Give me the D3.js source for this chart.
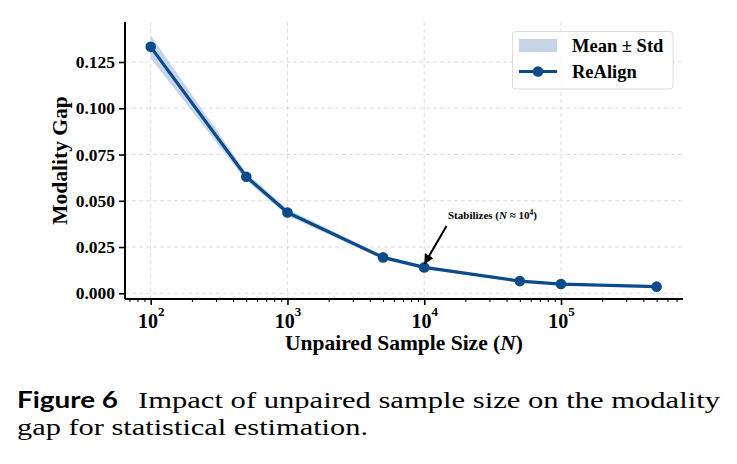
<!DOCTYPE html>
<html>
<head>
<meta charset="utf-8">
<script src="https://cdn.jsdelivr.net/npm/d3@7"></script>
<style>
  html, body { margin: 0; padding: 0; background: #fff; }
  svg { display: block; }
  .cap { font-family: "Liberation Serif", "Times New Roman", serif; font-weight: normal; }
</style>
</head>
<body>
<svg id="chart" width="737" height="464"></svg>
<script>
// ---- data ----
const sampleSizes = [100, 500, 1000, 5000, 10000, 50000, 100000, 500000];
const gapMean = [0.1332, 0.0630, 0.0437, 0.0194, 0.0140, 0.0066, 0.0050, 0.0036];
const gapStd  = [0.0062, 0.0020, 0.0018, 0.0010, 0.0008, 0.0006, 0.0005, 0.0004];
const yTicks = [0.000, 0.025, 0.050, 0.075, 0.100, 0.125];
const xTickExponents = [2, 3, 4, 5];
const seriesName = "ReAlign";
const bandName = "Mean \u00B1 Std";
const annotationText = "Stabilizes";
const annotationN = 10000;
const captionLabel = "Figure 6";
const captionLines = ["Impact of unpaired sample size on the modality", "gap for statistical estimation."];

(function () {
const lineColor = "#0b4a8b";
const bandColor = "#c5d5e7";
const serif = "'Liberation Serif', 'Times New Roman', serif";

const svg = d3.select("#chart");
const pL = 125, pR = 683, pT = 22, pB = 299;

const x = d3.scaleLog().domain([Math.pow(10, 1.8121), Math.pow(10, 5.892)]).range([pL, pR]);
const y = d3.scaleLinear().domain([-0.00308, 0.14662]).range([pB, pT]);

const data = sampleSizes.map((n, i) => ({n, m: gapMean[i], s: gapStd[i]}));

// grid
const grid = svg.append("g").attr("stroke", "#d9d9d9").attr("stroke-width", 0.9).attr("stroke-dasharray", "4,3");
yTicks.forEach(t => grid.append("line").attr("x1", pL).attr("x2", pR).attr("y1", y(t)).attr("y2", y(t)));
xTickExponents.forEach(e => grid.append("line").attr("x1", x(Math.pow(10, e))).attr("x2", x(Math.pow(10, e))).attr("y1", pT).attr("y2", pB));

// band
svg.append("path").datum(data)
  .attr("d", d3.area().x(d => x(d.n)).y0(d => y(d.m - d.s)).y1(d => y(d.m + d.s)))
  .attr("fill", bandColor).attr("stroke", "none");

// line
svg.append("path").datum(data)
  .attr("d", d3.line().x(d => x(d.n)).y(d => y(d.m)))
  .attr("fill", "none").attr("stroke", lineColor).attr("stroke-width", 3.2).attr("stroke-linejoin", "round");
svg.append("g").selectAll("circle").data(data).join("circle")
  .attr("cx", d => x(d.n)).attr("cy", d => y(d.m)).attr("r", 5.3).attr("fill", lineColor);

// axes
const yAxis = d3.axisLeft(y).tickValues(yTicks).tickFormat(d3.format(".3f")).tickSize(6).tickPadding(4);
const gy = svg.append("g").attr("transform", `translate(${pL},0)`).call(yAxis);
gy.select(".domain").attr("d", `M0,${pT}V${pB}`).attr("stroke-width", 2);
gy.selectAll(".tick line").attr("stroke-width", 1.6);
gy.selectAll(".tick text").attr("font-family", serif).attr("font-weight", "bold").attr("font-size", 17.5).attr("fill", "#000");

const minorTicks = [];
for (let e = 1; e <= 5; e++) for (let k = 2; k <= 9; k++) { const v = k * Math.pow(10, e); if (v > x.domain()[0] && v < x.domain()[1]) minorTicks.push(v); }
const gxMinor = svg.append("g").attr("transform", `translate(0,${pB})`)
  .call(d3.axisBottom(x).tickValues(minorTicks).tickFormat("").tickSize(3));
gxMinor.select(".domain").remove();
gxMinor.selectAll(".tick line").attr("stroke-width", 1);

const gx = svg.append("g").attr("transform", `translate(0,${pB})`)
  .call(d3.axisBottom(x).tickValues(xTickExponents.map(e => Math.pow(10, e))).tickFormat("").tickSize(6));
gx.select(".domain").attr("d", `M${pL},0H${pR}`).attr("stroke-width", 2);
gx.selectAll(".tick line").attr("stroke-width", 1.6);
gx.selectAll(".tick").each(function(d, i) {
  const t = d3.select(this).append("text").attr("y", 29).attr("text-anchor", "middle")
    .attr("font-family", serif).attr("font-weight", "bold").attr("font-size", 20).attr("fill", "#000");
  t.append("tspan").text("10");
  t.append("tspan").attr("font-size", 13).attr("dy", -12).text(xTickExponents[i]);
});

// axis labels
const xl = svg.append("text").attr("x", (pL + pR) / 2).attr("y", 350).attr("text-anchor", "middle")
  .attr("font-family", serif).attr("font-weight", "bold").attr("font-size", 21.5);
xl.append("tspan").text("Unpaired Sample Size (");
xl.append("tspan").attr("font-style", "italic").text("N");
xl.append("tspan").text(")");

svg.append("text").attr("transform", `translate(67,${(pT + pB) / 2}) rotate(-90)`).attr("text-anchor", "middle")
  .attr("font-family", serif).attr("font-weight", "bold").attr("font-size", 21.5).text("Modality Gap");

// annotation
const ann = svg.append("text").attr("x", 448).attr("y", 219)
  .attr("font-family", serif).attr("font-weight", "bold").attr("font-size", 11);
ann.append("tspan").text(annotationText + " (");
ann.append("tspan").attr("font-style", "italic").text("N");
ann.append("tspan").text(" \u2248 10");
ann.append("tspan").attr("font-size", 7.5).attr("dy", -4).text("4");
ann.append("tspan").attr("dy", 4).text(")");

const ax = x(annotationN), ay = y(gapMean[sampleSizes.indexOf(annotationN)]);
svg.append("defs").append("marker").attr("id", "ah").attr("viewBox", "0 0 10 10")
  .attr("refX", 9).attr("refY", 5).attr("markerWidth", 5).attr("markerHeight", 5)
  .attr("markerUnits", "strokeWidth").attr("orient", "auto")
  .append("path").attr("d", "M0,0L10,5L0,10z").attr("fill", "#000");
svg.append("line").attr("x1", 446.5).attr("y1", 226).attr("x2", ax + 0.5).attr("y2", ay - 4)
  .attr("stroke", "#000").attr("stroke-width", 2).attr("marker-end", "url(#ah)");

// legend
const lg = svg.append("g");
lg.append("rect").attr("x", 512.5).attr("y", 31.5).attr("width", 160.5).attr("height", 57.5).attr("rx", 3)
  .attr("fill", "#fff").attr("fill-opacity", 0.85).attr("stroke", "#dcdcdc").attr("stroke-width", 1);
lg.append("rect").attr("x", 519).attr("y", 39).attr("width", 38).attr("height", 13).attr("fill", bandColor);
lg.append("text").attr("x", 572).attr("y", 52).attr("font-family", serif).attr("font-weight", "bold").attr("font-size", 18.5).text(bandName);
lg.append("line").attr("x1", 519).attr("x2", 557).attr("y1", 71.5).attr("y2", 71.5).attr("stroke", lineColor).attr("stroke-width", 3.2);
lg.append("circle").attr("cx", 538).attr("cy", 71.5).attr("r", 5.3).attr("fill", lineColor);
lg.append("text").attr("x", 572).attr("y", 78).attr("font-family", serif).attr("font-weight", "bold").attr("font-size", 18.5).text(seriesName);

// caption
svg.append("text").attr("x", 17).attr("y", 408).style("font-family", "Lato, 'Open Sans', sans-serif").style("font-weight", "bold")
  .style("font-size", "23px").attr("textLength", 101).attr("lengthAdjust", "spacingAndGlyphs").text(captionLabel);
svg.append("text").attr("class", "cap").attr("x", 138).attr("y", 408).style("font-size", "24px").attr("fill", "#000")
  .attr("textLength", 582).attr("lengthAdjust", "spacingAndGlyphs").text(captionLines[0]);
svg.append("text").attr("class", "cap").attr("x", 17).attr("y", 435).style("font-size", "24px").attr("fill", "#000")
  .attr("textLength", 351).attr("lengthAdjust", "spacingAndGlyphs").text(captionLines[1]);
})();
</script>
</body>
</html>
